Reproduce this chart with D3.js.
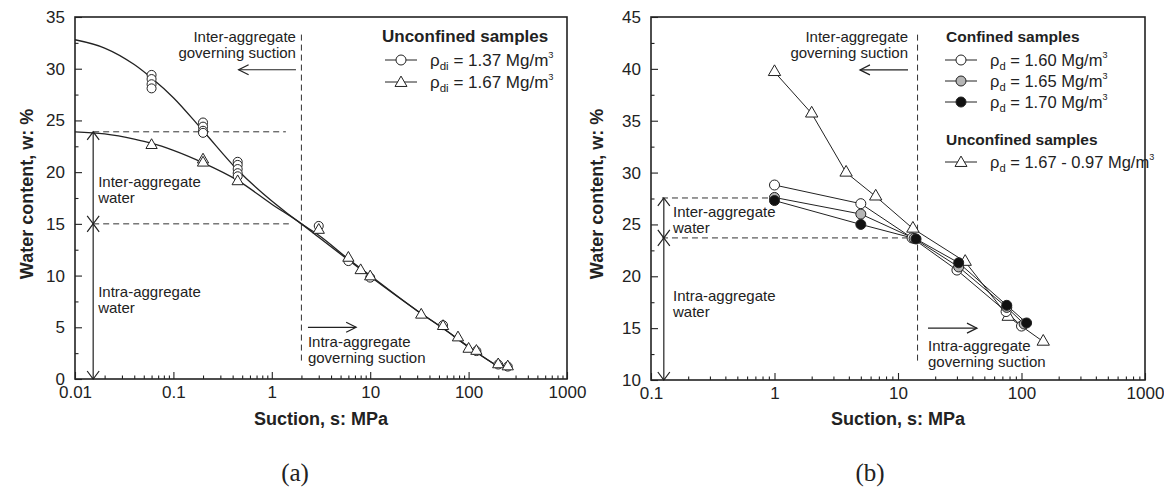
<html>
<head>
<style>
  body { margin: 0; background: #fff; }
  text { font-family: "Liberation Sans", Arial, sans-serif; fill: #222; }
  text.cap { font-family: "Liberation Serif", "DejaVu Serif", serif; }
  .frame { fill: none; stroke: #222; stroke-width: 1.6; }
  .dash { stroke: #333; stroke-width: 1; stroke-dasharray: 6,4; fill: none; }
  .arrow { stroke: #222; stroke-width: 1.2; fill: none; }
  .fit { stroke: #222; stroke-width: 1.3; fill: none; }
  .ser { stroke: #222; stroke-width: 1; fill: none; }
  .mk { stroke: #222; stroke-width: 1; }
</style>
<script src="https://d3js.org/d3.v7.min.js" charset="utf-8"></script>
</head>
<body>
<div id="viz"></div>
<script>
// ---- panel (a) data ----
const aCircS = [0.06, 0.06, 0.06, 0.06, 0.2, 0.2, 0.2, 0.2, 0.45, 0.45, 0.45, 0.45, 0.45, 3, 6, 10, 55, 120, 200, 250];
const aCircW = [29.4, 29.0, 28.5, 28.1, 24.8, 24.4, 24.0, 23.8, 21.0, 20.7, 20.3, 19.9, 19.6, 14.8, 11.4, 9.8, 5.2, 2.7, 1.4, 1.2];
const aTriS  = [0.06, 0.2, 0.2, 0.45, 3, 6, 8, 10, 33, 55, 78, 100, 120, 200, 250];
const aTriW  = [22.6, 21.2, 20.9, 19.1, 14.4, 11.7, 10.5, 9.9, 6.2, 5.1, 4.0, 2.9, 2.7, 1.4, 1.2];
// fitted curves
const aFitCircS = [0.01, 0.02, 0.04, 0.06, 0.1, 0.2, 0.45, 1, 2, 3, 6, 10, 30, 55, 100, 185];
const aFitCircW = [32.8, 32.0, 30.4, 29.1, 27.2, 24.0, 20.2, 17.2, 15.0, 13.9, 11.6, 10.0, 6.6, 4.9, 3.1, 1.4];
const aFitTriS  = [0.01, 0.02, 0.04, 0.06, 0.1, 0.2, 0.45, 1, 2, 3, 6, 10, 30, 55, 100, 185];
const aFitTriW  = [23.9, 23.7, 23.2, 22.8, 22.1, 20.9, 19.2, 16.9, 15.0, 13.7, 11.5, 9.9, 6.6, 4.9, 3.1, 1.4];

// ---- panel (b) data ----
const bS160 = [1, 5, 13, 30, 75, 100];
const bW160 = [28.8, 27.0, 23.7, 20.6, 16.6, 15.2];
const bS165 = [1, 5, 13.5, 31, 76, 105];
const bW165 = [27.6, 26.0, 23.65, 20.9, 17.0, 15.4];
const bS170 = [1, 5, 14, 31, 76, 110];
const bW170 = [27.3, 25.0, 23.6, 21.3, 17.2, 15.5];
const bSUnc = [1, 2, 3.8, 6.6, 13.2, 35, 78, 150];
const bWUnc = [39.7, 35.7, 30.0, 27.7, 24.6, 21.4, 16.1, 13.7];

// ---- ticks ----
const aXTicks = [0.01, 0.1, 1, 10, 100, 1000];
const aXLabels = ["0.01", "0.1", "1", "10", "100", "1000"];
const bXTicks = [0.1, 1, 10, 100, 1000];
const bXLabels = ["0.1", "1", "10", "100", "1000"];
const aYTicks = [0, 5, 10, 15, 20, 25, 30, 35];
const bYTicks = [10, 15, 20, 25, 30, 35, 40, 45];

// ---- legends ----
const aLegTitle = "Unconfined samples";
const aLegSub = ["di", "di"];
const aLegText = [" = 1.37 Mg/m", " = 1.67 Mg/m"];
const bLegTitle1 = "Confined samples";
const bLegTitle2 = "Unconfined samples";
const bLegSub = ["d", "d", "d", "d"];
const bLegText = [" = 1.60 Mg/m", " = 1.65 Mg/m", " = 1.70 Mg/m", " = 1.67 - 0.97 Mg/m"];

const gray = "#b5b5b5";

let svg = d3.select("#viz").append("svg").attr("width", 1164).attr("height", 489);

function zip(s, w) { return s.map((d, i) => [d, w[i]]); }

function arrowHead(g, x1, y1, x2, y2, len, half) {
    let a = Math.atan2(y2 - y1, x2 - x1);
    let p1 = [x2 - len * Math.cos(a) + half * Math.sin(a), y2 - len * Math.sin(a) - half * Math.cos(a)];
    let p2 = [x2 - len * Math.cos(a) - half * Math.sin(a), y2 - len * Math.sin(a) + half * Math.cos(a)];
    g.append("path").attr("class", "arrow")
        .attr("d", `M${p1[0]},${p1[1]}L${x2},${y2}L${p2[0]},${p2[1]}`);
}

function arrow(g, x1, y1, x2, y2, both, len, half) {
    g.append("line").attr("class", "arrow")
        .attr("x1", x1).attr("y1", y1).attr("x2", x2).attr("y2", y2);
    arrowHead(g, x1, y1, x2, y2, len, half);
    if (both) arrowHead(g, x2, y2, x1, y1, len, half);
}

function lines(g, x, y, anchor, rows, size) {
    let t = g.append("text").attr("x", x).attr("y", y)
        .attr("text-anchor", anchor).attr("font-size", size);
    rows.forEach((r, i) => t.append("tspan").attr("x", x).attr("dy", i ? "1.08em" : 0).text(r));
}

function makePanel(o) {
    let g = svg.append("g");
    let x = d3.scaleLog().domain(o.xd).range(o.xr);
    let y = d3.scaleLinear().domain(o.yd).range(o.yr);

    // minor ticks
    let minorX = [];
    o.xTicks.slice(0, -1).forEach(d => { for (let k = 2; k < 10; k++) minorX.push(d * k); });
    let minorY = o.yTicks.slice(0, -1).map(d => d + 2.5);

    let xAx = g.append("g").attr("transform", `translate(0,${o.yr[0]})`);
    xAx.append("g").call(d3.axisBottom(x).tickValues(minorX).tickSize(-3.5).tickFormat(""));
    xAx.append("g").call(d3.axisBottom(x).tickValues(o.xTicks).tickSize(-7).tickPadding(7)
        .tickFormat((d, i) => o.xLabels[i]));
    let yAx = g.append("g").attr("transform", `translate(${o.xr[0]},0)`);
    yAx.append("g").call(d3.axisLeft(y).tickValues(minorY).tickSize(-3.5).tickFormat(""));
    yAx.append("g").call(d3.axisLeft(y).tickValues(o.yTicks).tickSize(-7).tickPadding(10));
    g.selectAll(".domain").remove();
    g.selectAll(".tick line").attr("stroke", "#222").attr("stroke-width", 1.1);
    g.selectAll(".tick text").attr("font-size", 17).attr("fill", "#222");

    g.append("rect").attr("class", "frame")
        .attr("x", o.xr[0]).attr("y", o.yr[1])
        .attr("width", o.xr[1] - o.xr[0]).attr("height", o.yr[0] - o.yr[1]);

    // axis titles
    g.append("text").attr("x", (o.xr[0] + o.xr[1]) / 2).attr("y", 425)
        .attr("text-anchor", "middle").attr("font-size", 18).attr("font-weight", "bold")
        .text("Suction, s: MPa");
    g.append("text").attr("transform", `translate(${o.yLabX},194) rotate(-90)`)
        .attr("text-anchor", "middle").attr("font-size", 18).attr("font-weight", "bold")
        .text("Water content, w: %");
    g.append("text").attr("class", "cap").attr("x", o.capX).attr("y", 481).attr("text-anchor", "middle")
        .attr("font-size", 25)
        .text(o.cap);
    return { g, x, y };
}

function legendRow(g, x0, yy, sym, fill, sub, txt, size) {
    g.append("line").attr("class", "ser").attr("x1", x0).attr("x2", x0 + 32).attr("y1", yy).attr("y2", yy);
    if (sym === "c") g.append("circle").attr("class", "mk").attr("cx", x0 + 16).attr("cy", yy).attr("r", 5).attr("fill", fill);
    else g.append("path").attr("class", "mk").attr("fill", "#fff")
        .attr("transform", `translate(${x0 + 16},${yy + 1})`)
        .attr("d", d3.symbol().type(d3.symbolTriangle).size(62)());
    let t = g.append("text").attr("x", x0 + 45).attr("y", yy + 6).attr("font-size", size);
    t.append("tspan").text("ρ");
    t.append("tspan").attr("font-size", size * 0.68).attr("dy", 4).text(sub);
    t.append("tspan").attr("dy", -4).text(txt);
    t.append("tspan").attr("font-size", size * 0.55).attr("dy", -8).text("3");
}

// ================= panel (a) =================
let A = makePanel({ xd: [0.01, 1000], xr: [75, 567], yd: [0, 35], yr: [379, 17],
    xTicks: aXTicks, xLabels: aXLabels, yTicks: aYTicks, yLabX: 33, capX: 295, cap: "(a)" });
{
    let { g, x, y } = A;
    // annotations
    g.append("line").attr("class", "dash").attr("x1", x(2)).attr("x2", x(2)).attr("y1", y(33.3)).attr("y2", y(1.5));
    g.append("line").attr("class", "dash").attr("x1", x(0.0153)).attr("x2", x(1.39)).attr("y1", y(23.9)).attr("y2", y(23.9));
    g.append("line").attr("class", "dash").attr("x1", x(0.0153)).attr("x2", x(1.49)).attr("y1", y(15)).attr("y2", y(15));
    arrow(g, x(0.0153), y(15), x(0.0153), y(23.9), true, 8, 6);
    arrow(g, x(0.0153), y(0), x(0.0153), y(15), true, 8, 6);
    lines(g, x(1.76), y(32.6), "end", ["Inter-aggregate", "governing suction"], 15);
    arrow(g, x(1.76), y(29.9), x(0.46), y(29.9), false, 10, 5);
    lines(g, x(0.0172), y(18.6), "start", ["Inter-aggregate", "water"], 15);
    lines(g, x(0.0172), y(7.9), "start", ["Intra-aggregate", "water"], 15);
    arrow(g, x(2.33), y(5.0), x(7.2), y(5.0), false, 10, 5);
    lines(g, x(2.33), y(3.1), "start", ["Intra-aggregate", "governing suction"], 15);

    let line = d3.line().x(d => x(d[0])).y(d => y(d[1])).curve(d3.curveMonotoneX);
    g.append("path").attr("class", "fit").attr("d", line(zip(aFitCircS, aFitCircW)));
    g.append("path").attr("class", "fit").attr("d", line(zip(aFitTriS, aFitTriW)));

    g.selectAll(".circA").data(zip(aCircS, aCircW)).join("circle").attr("class", "mk")
        .attr("cx", d => x(d[0])).attr("cy", d => y(d[1])).attr("r", 4.5).attr("fill", "#fff");
    g.selectAll(".triA").data(zip(aTriS, aTriW)).join("path").attr("class", "mk").attr("fill", "#fff")
        .attr("transform", d => `translate(${x(d[0])},${y(d[1])})`)
        .attr("d", d3.symbol().type(d3.symbolTriangle).size(55)());

    g.append("text").attr("x", 382).attr("y", 42).attr("font-size", 17).attr("font-weight", "bold").text(aLegTitle);
    legendRow(g, 385, 60, "c", "#fff", aLegSub[0], aLegText[0], 17);
    legendRow(g, 385, 82, "t", "#fff", aLegSub[1], aLegText[1], 17);
}

// ================= panel (b) =================
let B = makePanel({ xd: [0.1, 1000], xr: [651, 1145], yd: [10, 45], yr: [380, 17],
    xTicks: bXTicks, xLabels: bXLabels, yTicks: bYTicks, yLabX: 603, capX: 870, cap: "(b)" });
{
    let { g, x, y } = B;
    g.append("line").attr("class", "dash").attr("x1", x(14.4)).attr("x2", x(14.4)).attr("y1", y(43.3)).attr("y2", y(11.6));
    g.append("line").attr("class", "dash").attr("x1", x(0.1227)).attr("x2", x(1)).attr("y1", y(27.55)).attr("y2", y(27.55));
    g.append("line").attr("class", "dash").attr("x1", x(0.1227)).attr("x2", x(12.98)).attr("y1", y(23.7)).attr("y2", y(23.7));
    arrow(g, x(0.127), y(23.7), x(0.127), y(27.55), true, 8, 6);
    arrow(g, x(0.127), y(10), x(0.127), y(23.7), true, 8, 6);
    lines(g, x(12.05), y(42.6), "end", ["Inter-aggregate", "governing suction"], 15);
    arrow(g, x(12.05), y(39.9), x(4.92), y(39.9), false, 10, 5);
    lines(g, x(0.1507), y(25.7), "start", ["Inter-aggregate", "water"], 15);
    lines(g, x(0.1507), y(17.6), "start", ["Intra-aggregate", "water"], 15);
    arrow(g, x(17.5), y(15.0), x(43.6), y(15.0), false, 10, 5);
    lines(g, x(17.5), y(12.8), "start", ["Intra-aggregate", "governing suction"], 15);

    let line = d3.line().x(d => x(d[0])).y(d => y(d[1]));
    let series = [
        { s: bSUnc, w: bWUnc, sym: "t", fill: "#fff" },
        { s: bS160, w: bW160, sym: "c", fill: "#fff" },
        { s: bS165, w: bW165, sym: "c", fill: gray },
        { s: bS170, w: bW170, sym: "c", fill: "#111" }
    ];
    series.forEach(d => g.append("path").attr("class", "ser").attr("d", line(zip(d.s, d.w))));
    series.forEach(d => {
        let pts = zip(d.s, d.w);
        if (d.sym === "c") {
            g.selectAll(null).data(pts).join("circle").attr("class", "mk")
                .attr("cx", p => x(p[0])).attr("cy", p => y(p[1])).attr("r", 5).attr("fill", d.fill);
        } else {
            g.selectAll(null).data(pts).join("path").attr("class", "mk").attr("fill", d.fill)
                .attr("transform", p => `translate(${x(p[0])},${y(p[1])})`)
                .attr("d", d3.symbol().type(d3.symbolTriangle).size(66)());
        }
    });

    g.append("text").attr("x", 946).attr("y", 42).attr("font-size", 15.5).attr("font-weight", "bold").text(bLegTitle1);
    legendRow(g, 945, 60, "c", "#fff", bLegSub[0], bLegText[0], 16.5);
    legendRow(g, 945, 81, "c", gray, bLegSub[1], bLegText[1], 16.5);
    legendRow(g, 945, 102, "c", "#111", bLegSub[2], bLegText[2], 16.5);
    g.append("text").attr("x", 946).attr("y", 145).attr("font-size", 15.5).attr("font-weight", "bold").text(bLegTitle2);
    legendRow(g, 945, 162, "t", "#fff", bLegSub[3], bLegText[3], 16.5);
}
</script>
</body>
</html>
